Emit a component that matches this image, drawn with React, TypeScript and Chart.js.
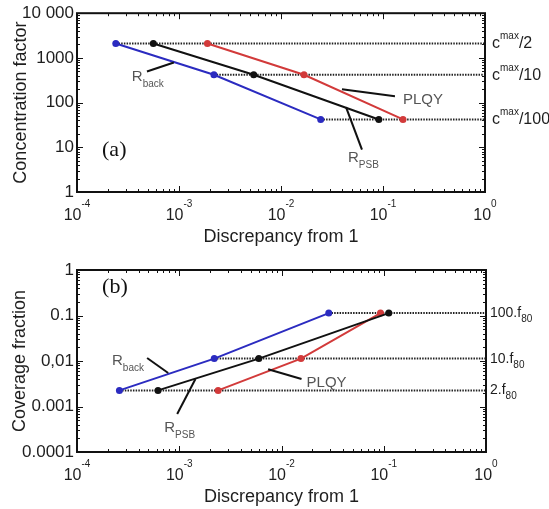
import React, { useEffect, useRef } from 'react';
import { Chart, registerables } from 'chart.js';

Chart.register(...registerables);

// ---------- data ----------
const X_TICKS = [1e-4, 1e-3, 1e-2, 1e-1, 1];
const X_TICK_EXP = ['-4', '-3', '-2', '-1', '0'];

// panel (a): concentration factor
const A_Y_TICKS = [1, 10, 100, 1000, 10000];
const A_Y_LABELS = ['1', '10', '100', '1000', '10 000'];
const A_LEVELS = [2100, 420, 42]; // c^max/2, c^max/10, c^max/100
const A_LEVEL_DIV = ['2', '10', '100'];
const A_BACK = [2.4e-4, 2.2e-3, 0.0245];
const A_PSB = [5.6e-4, 5.4e-3, 0.091];
const A_PLQY = [1.9e-3, 0.0168, 0.157];

// panel (b): coverage fraction
const B_Y_TICKS = [1e-4, 1e-3, 1e-2, 1e-1, 1];
const B_Y_LABELS = ['0.0001', '0.001', '0,01', '0.1', '1'];
const B_LEVELS = [0.00226, 0.0113, 0.113]; // 2.f80, 10.f80, 100.f80
const B_LEVEL_MULT = ['2', '10', '100'];
const B_BACK = [2.6e-4, 2.2e-3, 0.029];
const B_PSB = [6.2e-4, 6.0e-3, 0.112];
const B_PLQY = [2.4e-3, 0.0155, 0.093];

// ---------- styles ----------
const SANS = '"Liberation Sans", Arial, sans-serif';
const SERIF = '"Liberation Serif", "Times New Roman", serif';
const BLUE = '#2b2bc0';
const RED = '#d23a3a';
const BLACK = '#111111';
const TEXT = '#1e1e1e';
const ANN = '#555555';

type Part = { t: string; size: number; dy: number; family?: string };
type Ann = { parts: Part[]; x: number; y: number; leader?: [number, number][] };

const A_ANN: Ann[] = [
  { parts: [{ t: 'R', size: 15, dy: 0 }, { t: 'back', size: 10, dy: 6 }], x: 3.45e-4, y: 298,
    leader: [[4.85e-4, 497], [8.9e-4, 790]] },
  { parts: [{ t: 'PLQY', size: 15, dy: 0 }], x: 0.157, y: 92,
    leader: [[0.0396, 199], [0.131, 139]] },
  { parts: [{ t: 'R', size: 15, dy: 0 }, { t: 'PSB', size: 10, dy: 6 }], x: 0.0454, y: 4.6,
    leader: [[0.0434, 79.5], [0.0622, 8.9]] },
  { parts: [{ t: '(a)', size: 22, dy: 0, family: SERIF }], x: 1.76e-4, y: 6.25 },
];

const B_ANN: Ann[] = [
  { parts: [{ t: 'R', size: 15, dy: 0 }, { t: 'back', size: 10, dy: 6 }], x: 2.2e-4, y: 0.0082,
    leader: [[4.85e-4, 0.01164], [7.8e-4, 0.00545]] },
  { parts: [{ t: 'R', size: 15, dy: 0 }, { t: 'PSB', size: 10, dy: 6 }], x: 7.13e-4, y: 2.75e-4,
    leader: [[9.55e-4, 6.84e-4], [1.44e-3, 4.02e-3]] },
  { parts: [{ t: 'PLQY', size: 15, dy: 0 }], x: 0.0176, y: 0.00269,
    leader: [[7.4e-3, 0.0066], [0.0157, 0.00402]] },
  { parts: [{ t: '(b)', size: 22, dy: 0, family: SERIF }], x: 1.76e-4, y: 0.313 },
];

function drawParts(ctx: CanvasRenderingContext2D, x: number, y: number, parts: Part[], color: string, align: 'left' | 'center' = 'left') {
  ctx.save();
  ctx.fillStyle = color;
  ctx.textAlign = 'left';
  ctx.textBaseline = 'alphabetic';
  let total = 0;
  for (const p of parts) {
    ctx.font = `${p.size}px ${p.family || SANS}`;
    total += ctx.measureText(p.t).width;
  }
  let cx = align === 'center' ? x - total / 2 : x;
  for (const p of parts) {
    ctx.font = `${p.size}px ${p.family || SANS}`;
    ctx.fillText(p.t, cx, y + p.dy);
    cx += ctx.measureText(p.t).width;
  }
  ctx.restore();
}

type PanelProps = {
  height: number;
  top: number;
  padTop: number;
  padRight: number;
  xAxisH: number;
  xTitlePad: number;
  yTitle: string;
  yTitlePad: number;
  yMin: number;
  yMax: number;
  yTicks: number[];
  yLabels: string[];
  levels: number[];
  back: number[];
  psb: number[];
  plqy: number[];
  rightLabel: (i: number) => Part[];
  rightDx: number;
  ann: Ann[];
};

function Panel(props: PanelProps) {
  const ref = useRef<HTMLCanvasElement | null>(null);
  useEffect(() => {
    const canvas = ref.current;
    if (!canvas) return;
    const pts = (xs: number[]) => xs.map((x, i) => ({ x, y: props.levels[i] }));
    const series = (label: string, xs: number[], color: string) => ({
      label,
      data: pts(xs),
      showLine: true,
      borderColor: color,
      backgroundColor: color,
      borderWidth: 2,
      pointRadius: 3.5,
      pointBorderWidth: 0,
      pointBackgroundColor: color,
    });
    const dotted = props.levels.map((lv, i) => ({
      label: 'level' + i,
      data: [{ x: props.back[i], y: lv }, { x: 1, y: lv }],
      showLine: true,
      borderColor: '#222222',
      borderWidth: 2,
      borderDash: [1.5, 1.2],
      pointRadius: 0,
    }));

    const framePlugin = {
      id: 'frame',
      beforeDatasetsDraw(chart: any) {
        const { ctx, chartArea: a } = chart;
        const xs = chart.scales.x;
        const ys = chart.scales.y;
        ctx.save();
        ctx.strokeStyle = '#111';
        ctx.lineWidth = 1;
        ctx.beginPath();
        // x ticks (major + minor), bottom & top, inward
        for (let e = -4; e <= 0; e++) {
          for (let m = 1; m <= 9; m++) {
            const v = m * Math.pow(10, e);
            if (v > 1.0000001) continue;
            const px = Math.round(xs.getPixelForValue(v)) + 0.5;
            const len = m === 1 ? 6 : 3;
            ctx.moveTo(px, a.bottom);
            ctx.lineTo(px, a.bottom - len);
            ctx.moveTo(px, a.top);
            ctx.lineTo(px, a.top + len);
          }
        }
        const eMin = Math.round(Math.log10(props.yMin));
        const eMax = Math.round(Math.log10(props.yMax));
        for (let e = eMin; e <= eMax; e++) {
          for (let m = 1; m <= 9; m++) {
            const v = m * Math.pow(10, e);
            if (v > props.yMax * 1.0000001) continue;
            const py = Math.round(ys.getPixelForValue(v)) + 0.5;
            const len = m === 1 ? 6 : 3;
            ctx.moveTo(a.left, py);
            ctx.lineTo(a.left + len, py);
            ctx.moveTo(a.right, py);
            ctx.lineTo(a.right - len, py);
          }
        }
        ctx.stroke();
        ctx.restore();
      },
      afterDraw(chart: any) {
        const { ctx, chartArea: a } = chart;
        const xs = chart.scales.x;
        const ys = chart.scales.y;
        ctx.save();
        ctx.strokeStyle = '#111';
        ctx.lineWidth = 2;
        ctx.strokeRect(a.left, a.top, a.right - a.left, a.bottom - a.top);
        ctx.restore();
        // x tick labels 10^n
        X_TICKS.forEach((v, i) => {
          const px = xs.getPixelForValue(v);
          ctx.save();
          ctx.font = `16px ${SANS}`;
          const w1 = ctx.measureText('10').width;
          ctx.font = `10px ${SANS}`;
          const w2 = ctx.measureText(X_TICK_EXP[i]).width;
          const x0 = px - (w1 + w2) / 2;
          ctx.fillStyle = TEXT;
          ctx.textBaseline = 'alphabetic';
          ctx.textAlign = 'left';
          ctx.font = `16px ${SANS}`;
          ctx.fillText('10', x0, a.bottom + 28);
          ctx.font = `10px ${SANS}`;
          ctx.fillText(X_TICK_EXP[i], x0 + w1, a.bottom + 15);
          ctx.restore();
        });
        // right-hand level labels
        props.levels.forEach((lv, i) => {
          const py = ys.getPixelForValue(lv);
          drawParts(ctx, a.right + props.rightDx, py, props.rightLabel(i), TEXT);
        });
        // annotations
        props.ann.forEach((an) => {
          if (an.leader) {
            ctx.save();
            ctx.strokeStyle = '#111';
            ctx.lineWidth = 2;
            ctx.beginPath();
            an.leader.forEach(([lx, ly], k) => {
              const px = xs.getPixelForValue(lx);
              const py = ys.getPixelForValue(ly);
              if (k === 0) ctx.moveTo(px, py);
              else ctx.lineTo(px, py);
            });
            ctx.stroke();
            ctx.restore();
          }
          const isTag = an.parts[0].family === SERIF;
          drawParts(ctx, xs.getPixelForValue(an.x), ys.getPixelForValue(an.y), an.parts, isTag ? '#111' : ANN);
        });
      },
    };

    const chart = new Chart(canvas, {
      type: 'scatter',
      data: {
        datasets: [
          series('R_back', props.back, BLUE),
          series('R_PSB', props.psb, BLACK),
          series('PLQY', props.plqy, RED),
          ...dotted,
        ] as any,
      },
      options: {
        animation: false,
        responsive: false,
        devicePixelRatio: 1,
        layout: { padding: { left: 0, top: props.padTop, right: props.padRight, bottom: 0 } },
        plugins: { legend: { display: false }, tooltip: { enabled: false } },
        scales: {
          x: {
            type: 'logarithmic',
            min: 1e-4,
            max: 1,
            afterBuildTicks: (s: any) => {
              s.ticks = X_TICKS.map((v) => ({ value: v }));
            },
            afterFit: (s: any) => {
              s.height = props.xAxisH;
            },
            ticks: { display: false },
            grid: { display: false },
            border: { display: false },
            title: {
              display: true,
              text: 'Discrepancy from 1',
              color: TEXT,
              font: { family: SANS, size: 18 },
              padding: { top: 0, bottom: props.xTitlePad },
            },
          },
          y: {
            type: 'logarithmic',
            min: props.yMin,
            max: props.yMax,
            afterBuildTicks: (s: any) => {
              s.ticks = props.yTicks.map((v) => ({ value: v }));
            },
            afterFit: (s: any) => {
              s.width = 77;
            },
            ticks: {
              autoSkip: false,
              padding: 3,
              color: TEXT,
              font: { family: SANS, size: 17 },
              callback: (_v: any, i: number) => props.yLabels[i],
            },
            grid: { display: false, drawTicks: false },
            border: { display: false },
            title: {
              display: true,
              text: props.yTitle,
              color: TEXT,
              font: { family: SANS, size: 18 },
              padding: { top: props.yTitlePad, bottom: 0 },
            },
          },
        },
      } as any,
      plugins: [framePlugin],
    });
    return () => chart.destroy();
  }, []);
  return (
    <canvas
      ref={ref}
      width={549}
      height={props.height}
      style={{ position: 'absolute', left: 0, top: props.top, width: 549, height: props.height, display: 'block' }}
    />
  );
}

export default function App() {
  return (
    <div style={{ position: 'absolute', left: 0, top: 0, width: 549, height: 509, background: '#fff' }}>
      <Panel
        height={250}
        top={0}
        padTop={11}
        padRight={64}
        xAxisH={58}
        xTitlePad={2}
        yTitle="Concentration factor"
        yTitlePad={10}
        yMin={1}
        yMax={10000}
        yTicks={A_Y_TICKS}
        yLabels={A_Y_LABELS}
        levels={A_LEVELS}
        back={A_BACK}
        psb={A_PSB}
        plqy={A_PLQY}
        rightDx={7}
        rightLabel={(i) => [
          { t: 'c', size: 16, dy: 5 },
          { t: 'max', size: 10, dy: -4 },
          { t: '/' + A_LEVEL_DIV[i], size: 16, dy: 5 },
        ]}
        ann={A_ANN}
      />
      <Panel
        height={259}
        top={250}
        padTop={20}
        padRight={63}
        xAxisH={57}
        xTitlePad={1}
        yTitle="Coverage fraction"
        yTitlePad={9}
        yMin={1e-4}
        yMax={1}
        yTicks={B_Y_TICKS}
        yLabels={B_Y_LABELS}
        levels={B_LEVELS}
        back={B_BACK}
        psb={B_PSB}
        plqy={B_PLQY}
        rightDx={4}
        rightLabel={(i) => [
          { t: B_LEVEL_MULT[i] + '.f', size: 14, dy: 4 },
          { t: '80', size: 10, dy: 9 },
        ]}
        ann={B_ANN}
      />
    </div>
  );
}
